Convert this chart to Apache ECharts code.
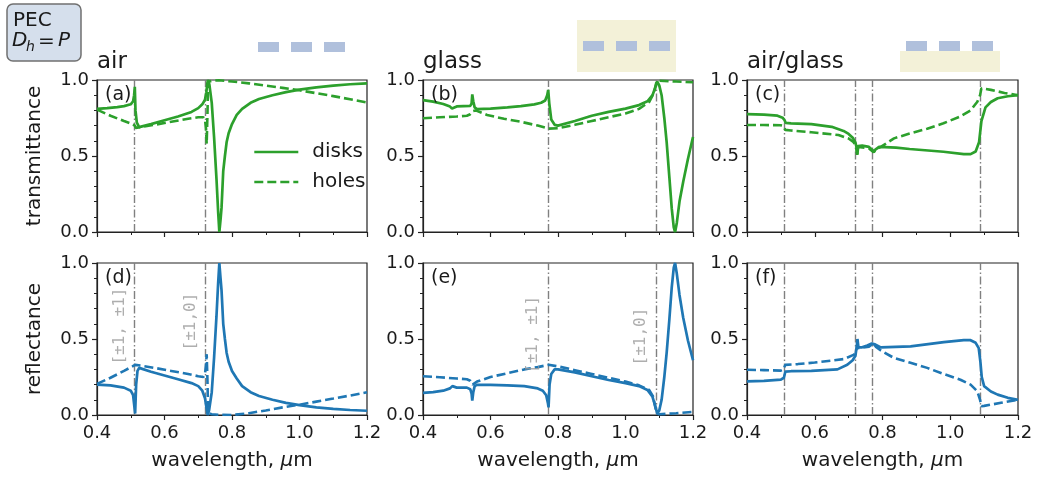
<!DOCTYPE html>
<html><head><meta charset="utf-8">
<script src="https://cdn.jsdelivr.net/npm/echarts@6/dist/echarts.min.js"></script>
<style>html,body{margin:0;padding:0;background:#fff}#c{width:1038px;height:483px}</style>
</head><body><div id="c"></div><script>
// ---------- data (wavelength in um, value) ----------
const xTickLabels = ['0.4','0.6','0.8','1.0','1.2'];
const yTickLabels = ['0.0','0.5','1.0'];
const panelTitles = ['air','glass','air/glass'];
const panelLetters = ['(a)','(b)','(c)','(d)','(e)','(f)'];
const rayleighAir = [0.513, 0.725];
const rayleighGlass = [0.772, 1.091];
const rayleighAirGlass = [0.513, 0.725, 0.772, 1.091];
const orderLabels = ['[±1, ±1]', '[±1,0]'];
const orderLabelPosD = [[0.468, 0.585], [0.677, 0.615]];
const orderLabelPosE = [[0.724, 0.53], [1.046, 0.516]];

const T_air_disks = [[0.40,0.810],[0.43,0.815],[0.46,0.822],[0.48,0.828],[0.50,0.840],[0.507,0.860],[0.510,0.90],[0.512,0.955],[0.514,0.80],[0.518,0.72],[0.525,0.69],[0.53,0.692],[0.56,0.71],[0.60,0.735],[0.64,0.76],[0.68,0.79],[0.70,0.815],[0.712,0.84],[0.72,0.87],[0.724,0.92],[0.727,0.98],[0.729,1.0],[0.733,0.97],[0.74,0.85],[0.747,0.62],[0.754,0.35],[0.759,0.13],[0.7625,0.0],[0.766,0.08],[0.769,0.16],[0.774,0.40],[0.779,0.50],[0.784,0.59],[0.79,0.65],[0.80,0.71],[0.814,0.77],[0.83,0.81],[0.855,0.85],[0.88,0.875],[0.92,0.90],[0.96,0.92],[1.00,0.937],[1.05,0.952],[1.10,0.963],[1.15,0.972],[1.20,0.978]];
const T_air_holes = [[0.40,0.805],[0.44,0.765],[0.48,0.73],[0.505,0.71],[0.512,0.70],[0.515,0.685],[0.53,0.69],[0.57,0.705],[0.62,0.725],[0.67,0.745],[0.70,0.755],[0.715,0.755],[0.72,0.74],[0.723,0.68],[0.725,0.58],[0.727,0.75],[0.729,0.95],[0.732,0.99],[0.74,0.995],[0.76,0.998],[0.80,0.99],[0.85,0.978],[0.90,0.963],[0.95,0.948],[1.00,0.932],[1.05,0.913],[1.10,0.894],[1.15,0.873],[1.20,0.852]];
const R_air_disks = [[0.40,0.20],[0.44,0.195],[0.48,0.18],[0.50,0.16],[0.507,0.13],[0.511,0.05],[0.513,0.01],[0.516,0.20],[0.52,0.29],[0.525,0.31],[0.53,0.305],[0.56,0.285],[0.60,0.26],[0.64,0.235],[0.68,0.21],[0.70,0.19],[0.712,0.16],[0.72,0.11],[0.725,0.04],[0.728,0.0],[0.732,0.03],[0.74,0.15],[0.747,0.38],[0.754,0.65],[0.759,0.87],[0.7625,1.0],[0.766,0.90],[0.769,0.82],[0.774,0.60],[0.779,0.50],[0.784,0.41],[0.79,0.35],[0.80,0.29],[0.814,0.24],[0.83,0.19],[0.855,0.15],[0.88,0.125],[0.92,0.10],[0.96,0.08],[1.00,0.065],[1.05,0.05],[1.10,0.04],[1.15,0.033],[1.20,0.028]];
const R_air_holes = [[0.40,0.205],[0.44,0.245],[0.48,0.29],[0.505,0.32],[0.513,0.33],[0.53,0.325],[0.57,0.31],[0.62,0.29],[0.67,0.27],[0.70,0.255],[0.715,0.25],[0.72,0.27],[0.723,0.33],[0.725,0.40],[0.727,0.25],[0.729,0.05],[0.732,0.01],[0.74,0.005],[0.76,0.002],[0.80,0.0],[0.85,0.012],[0.90,0.03],[0.95,0.05],[1.00,0.068],[1.05,0.088],[1.10,0.108],[1.15,0.128],[1.20,0.15]];

const T_glass_disks = [[0.40,0.868],[0.43,0.858],[0.46,0.842],[0.48,0.825],[0.486,0.812],[0.49,0.818],[0.50,0.826],[0.52,0.828],[0.54,0.83],[0.544,0.845],[0.546,0.905],[0.549,0.86],[0.553,0.82],[0.56,0.808],[0.60,0.812],[0.65,0.82],[0.69,0.828],[0.73,0.84],[0.75,0.85],[0.762,0.865],[0.768,0.90],[0.771,0.935],[0.774,0.85],[0.78,0.74],[0.79,0.705],[0.80,0.70],[0.85,0.73],[0.90,0.765],[0.95,0.79],[1.00,0.812],[1.04,0.835],[1.065,0.86],[1.08,0.90],[1.088,0.95],[1.094,0.99],[1.10,0.965],[1.107,0.90],[1.115,0.75],[1.122,0.59],[1.13,0.36],[1.137,0.155],[1.143,0.03],[1.147,0.0],[1.152,0.06],[1.16,0.2],[1.171,0.33],[1.185,0.48],[1.20,0.625]];
const T_glass_holes = [[0.40,0.748],[0.45,0.755],[0.50,0.76],[0.53,0.765],[0.54,0.775],[0.548,0.795],[0.556,0.80],[0.56,0.798],[0.59,0.77],[0.64,0.745],[0.69,0.725],[0.74,0.70],[0.772,0.68],[0.80,0.683],[0.85,0.705],[0.90,0.73],[0.95,0.755],[1.00,0.78],[1.04,0.81],[1.07,0.855],[1.085,0.92],[1.092,0.99],[1.10,0.995],[1.15,0.99],[1.20,0.985]];
const R_glass_disks = [[0.40,0.145],[0.43,0.15],[0.46,0.16],[0.48,0.175],[0.487,0.19],[0.49,0.185],[0.50,0.18],[0.53,0.18],[0.54,0.17],[0.544,0.14],[0.546,0.095],[0.549,0.15],[0.553,0.19],[0.56,0.198],[0.60,0.198],[0.65,0.195],[0.70,0.19],[0.74,0.175],[0.755,0.16],[0.765,0.13],[0.77,0.08],[0.772,0.05],[0.775,0.2],[0.78,0.27],[0.79,0.30],[0.80,0.30],[0.85,0.28],[0.90,0.255],[0.95,0.23],[1.00,0.21],[1.04,0.19],[1.065,0.165],[1.08,0.12],[1.088,0.06],[1.094,0.01],[1.10,0.03],[1.107,0.10],[1.115,0.25],[1.122,0.41],[1.13,0.63],[1.137,0.84],[1.143,0.97],[1.147,1.0],[1.152,0.93],[1.16,0.79],[1.171,0.64],[1.185,0.49],[1.20,0.36]];
const R_glass_holes = [[0.40,0.255],[0.45,0.248],[0.50,0.24],[0.53,0.235],[0.54,0.225],[0.547,0.20],[0.552,0.205],[0.56,0.22],[0.60,0.25],[0.65,0.275],[0.70,0.30],[0.74,0.315],[0.772,0.33],[0.80,0.32],[0.85,0.295],[0.90,0.27],[0.95,0.245],[1.00,0.22],[1.04,0.195],[1.07,0.165],[1.082,0.12],[1.092,0.01],[1.10,0.005],[1.15,0.012],[1.20,0.02]];

const T_ag_disks = [[0.40,0.776],[0.45,0.772],[0.49,0.765],[0.505,0.752],[0.511,0.735],[0.514,0.718],[0.53,0.715],[0.59,0.71],[0.65,0.692],[0.685,0.665],[0.70,0.645],[0.712,0.62],[0.72,0.59],[0.724,0.55],[0.726,0.51],[0.728,0.565],[0.74,0.568],[0.76,0.56],[0.77,0.54],[0.774,0.524],[0.778,0.54],[0.79,0.56],[0.84,0.555],[0.88,0.546],[0.98,0.528],[1.04,0.512],[1.06,0.512],[1.075,0.53],[1.085,0.59],[1.092,0.73],[1.104,0.82],[1.12,0.855],[1.14,0.88],[1.17,0.893],[1.20,0.90]];
const T_ag_holes = [[0.40,0.704],[0.45,0.704],[0.50,0.702],[0.508,0.695],[0.513,0.672],[0.53,0.668],[0.59,0.656],[0.67,0.638],[0.70,0.615],[0.715,0.59],[0.722,0.56],[0.725,0.507],[0.728,0.56],[0.76,0.55],[0.774,0.525],[0.78,0.545],[0.795,0.56],[0.834,0.616],[0.88,0.648],[0.932,0.68],[0.98,0.715],[1.03,0.76],[1.06,0.80],[1.08,0.857],[1.088,0.90],[1.092,0.945],[1.12,0.935],[1.16,0.915],[1.20,0.90]];
const R_ag_disks = [[0.40,0.221],[0.45,0.225],[0.50,0.233],[0.509,0.245],[0.513,0.285],[0.53,0.288],[0.59,0.29],[0.667,0.30],[0.696,0.33],[0.712,0.36],[0.72,0.39],[0.724,0.45],[0.726,0.50],[0.729,0.445],[0.74,0.445],[0.755,0.458],[0.768,0.47],[0.773,0.478],[0.778,0.465],[0.795,0.445],[0.883,0.452],[0.981,0.48],[1.04,0.492],[1.06,0.492],[1.075,0.475],[1.084,0.44],[1.089,0.35],[1.093,0.25],[1.10,0.19],[1.12,0.155],[1.14,0.134],[1.17,0.113],[1.20,0.10]];
const R_ag_holes = [[0.40,0.298],[0.45,0.295],[0.50,0.292],[0.508,0.30],[0.513,0.33],[0.55,0.335],[0.60,0.345],[0.686,0.368],[0.716,0.397],[0.722,0.42],[0.726,0.46],[0.729,0.44],[0.76,0.45],[0.773,0.472],[0.78,0.45],[0.795,0.425],[0.834,0.375],[0.88,0.345],[0.932,0.31],[0.98,0.27],[1.03,0.232],[1.06,0.20],[1.08,0.156],[1.088,0.10],[1.092,0.057],[1.10,0.06],[1.15,0.08],[1.20,0.10]];

// ---------- layout & style ----------
const GREEN = '#2ca02c', BLUE = '#1f77b4', GRAY = '#808080', INK = '#1a1a1a';
const FONT = 'DejaVu Sans';
const grids = [
  {left:97, top:80, width:270, height:152},
  {left:423, top:80, width:270, height:152},
  {left:747, top:80, width:271, height:152},
  {left:97, top:263, width:270, height:152},
  {left:423, top:263, width:270, height:152},
  {left:747, top:263, width:271, height:152}
].map(g => Object.assign({show:true, borderColor:'#222', borderWidth:1.2, backgroundColor:'rgba(0,0,0,0)'}, g));

const panels = [
  {d:T_air_disks, h:T_air_holes, c:GREEN, r:rayleighAir},
  {d:T_glass_disks, h:T_glass_holes, c:GREEN, r:rayleighGlass},
  {d:T_ag_disks, h:T_ag_holes, c:GREEN, r:rayleighAirGlass},
  {d:R_air_disks, h:R_air_holes, c:BLUE, r:rayleighAir},
  {d:R_glass_disks, h:R_glass_holes, c:BLUE, r:rayleighGlass},
  {d:R_ag_disks, h:R_ag_holes, c:BLUE, r:rayleighAirGlass}
];

const xAxes = [], yAxes = [], series = [];
for (let i = 0; i < 6; i++) {
  const bottom = i >= 3;
  xAxes.push({
    type:'value', gridIndex:i, min:0.4, max:1.2, interval:0.2,
    axisLine:{show:true, onZero:false, lineStyle:{color:'#222', width:1.2}},
    axisTick:{show:true, length:5, lineStyle:{color:'#222', width:1.2}},
    minorTick:{show:true, splitNumber:2, length:3, lineStyle:{color:'#222', width:1}},
    splitLine:{show:false}, minorSplitLine:{show:false},
    axisLabel:{show:bottom, showMinLabel:true, showMaxLabel:true, margin:9,
      formatter: v => xTickLabels[Math.round((v - 0.4) / 0.2)],
      fontSize:18, color:INK, fontFamily:FONT},
    name: bottom ? 'wavelength, {i|μ}m' : '', nameLocation:'middle', nameGap:36,
    nameTextStyle:{fontSize:20, color:INK, fontFamily:FONT,
      rich:{i:{fontStyle:'italic', fontSize:20, color:INK, fontFamily:FONT}}}
  });
  const col0 = i % 3 === 0;
  yAxes.push({
    type:'value', gridIndex:i, min:0, max:1, interval:0.5,
    axisLine:{show:true, onZero:false, lineStyle:{color:'#222', width:1.2}},
    axisTick:{show:true, length:5, lineStyle:{color:'#222', width:1.2}},
    minorTick:{show:true, splitNumber:5, length:3, lineStyle:{color:'#222', width:1}},
    splitLine:{show:false}, minorSplitLine:{show:false},
    axisLabel:{show:true, showMinLabel:true, showMaxLabel:true, margin:8,
      formatter: v => yTickLabels[Math.round(v / 0.5)],
      fontSize:18, color:INK, fontFamily:FONT},
    name: col0 ? (bottom ? 'reflectance' : 'transmittance') : '',
    nameLocation:'middle', nameGap:52,
    nameTextStyle:{fontSize:20, color:INK, fontFamily:FONT}
  });
  const p = panels[i];
  series.push({
    name: i === 0 ? 'holes' : 'holes' + i, type:'line', xAxisIndex:i, yAxisIndex:i,
    data:p.h, showSymbol:false, symbol:'none', z:3,
    lineStyle:{color:p.c, width:2.6, type:[9,4]}, itemStyle:{color:p.c},
    markLine:{silent:true, symbol:['none','none'], label:{show:false}, z:1,
      lineStyle:{color:GRAY, width:1.4, type:[8,2.5,1.5,2.5]},
      data:p.r.map(v => ({xAxis:v}))}
  });
  series.push({
    name: i === 0 ? 'disks' : 'disks' + i, type:'line', xAxisIndex:i, yAxisIndex:i,
    data:p.d, showSymbol:false, symbol:'none', z:4,
    lineStyle:{color:p.c, width:2.7, type:'solid'}, itemStyle:{color:p.c}
  });
}
// diffraction order annotations in (d) and (e)
[[3, orderLabelPosD], [4, orderLabelPosE]].forEach(([gi, pos]) => {
  series.push({
    type:'scatter', xAxisIndex:gi, yAxisIndex:gi, symbolSize:0, silent:true, z:5,
    data: pos.map((v, k) => ({value:v, label:{formatter:orderLabels[k]}})),
    label:{show:true, position:'inside', rotate:90, fontFamily:'DejaVu Sans Mono',
      fontSize:16, color:'#9a9a9a', align:'center', verticalAlign:'middle'}
  });
});

const SQ = '#b0c0dc', BEIGE = '#f3f1d8';
const graphic = [
  // PEC box
  {type:'rect', shape:{x:7, y:4, width:74, height:57, r:6}, style:{fill:'#d5dfec', stroke:'#707070', lineWidth:1.5}},
  {type:'text', x:13, y:21, style:{text:'PEC', font:'20px "DejaVu Sans"', fill:INK, verticalAlign:'middle'}},
  {type:'text', x:12, y:41, style:{text:'D', font:'italic 20px "DejaVu Sans"', fill:INK, verticalAlign:'middle'}},
  {type:'text', x:26, y:47, style:{text:'h', font:'italic 14px "DejaVu Sans"', fill:INK, verticalAlign:'middle'}},
  {type:'text', x:38, y:42, style:{text:'=', font:'20px "DejaVu Sans"', fill:INK, verticalAlign:'middle'}},
  {type:'text', x:58, y:41, style:{text:'P', font:'italic 20px "DejaVu Sans"', fill:INK, verticalAlign:'middle'}},
  // titles
  {type:'text', x:97, y:62, style:{text:panelTitles[0], font:'23px "DejaVu Sans"', fill:INK, verticalAlign:'middle'}},
  {type:'text', x:423, y:62, style:{text:panelTitles[1], font:'23px "DejaVu Sans"', fill:INK, verticalAlign:'middle'}},
  {type:'text', x:747, y:62, style:{text:panelTitles[2], font:'23px "DejaVu Sans"', fill:INK, verticalAlign:'middle'}},
  // icons
  {type:'rect', shape:{x:258, y:42, width:21, height:10}, style:{fill:SQ}},
  {type:'rect', shape:{x:291, y:42, width:21, height:10}, style:{fill:SQ}},
  {type:'rect', shape:{x:324, y:42, width:21, height:10}, style:{fill:SQ}},
  {type:'rect', shape:{x:577, y:20, width:99, height:52}, style:{fill:BEIGE}},
  {type:'rect', shape:{x:583, y:41, width:21, height:10}, style:{fill:SQ}},
  {type:'rect', shape:{x:616, y:41, width:21, height:10}, style:{fill:SQ}},
  {type:'rect', shape:{x:649, y:41, width:21, height:10}, style:{fill:SQ}},
  {type:'rect', shape:{x:900, y:51, width:100, height:21}, style:{fill:BEIGE}},
  {type:'rect', shape:{x:906, y:41, width:21, height:10}, style:{fill:SQ}},
  {type:'rect', shape:{x:939, y:41, width:21, height:10}, style:{fill:SQ}},
  {type:'rect', shape:{x:972, y:41, width:21, height:10}, style:{fill:SQ}}
];
grids.forEach((g, i) => {
  graphic.push({type:'text', x:g.left + 8, y:g.top + 15, z:10,
    style:{text:panelLetters[i], font:'19px "DejaVu Sans"', fill:INK, verticalAlign:'middle'}});
});

const chart = echarts.init(document.getElementById('c'), null, {renderer:'canvas'});
chart.setOption({
  animation:false,
  backgroundColor:'#fff',
  grid:grids, xAxis:xAxes, yAxis:yAxes, series:series, graphic:graphic,
  legend:{data:['disks','holes'], left:253, top:142, padding:0, orient:'vertical', itemWidth:44, itemHeight:20, itemGap:10,
    selectedMode:false, itemStyle:{opacity:0}, lineStyle:{width:2.6},
    textStyle:{fontSize:20, color:INK, fontFamily:FONT, padding:[0,0,0,9]}}
});
</script></body></html>
